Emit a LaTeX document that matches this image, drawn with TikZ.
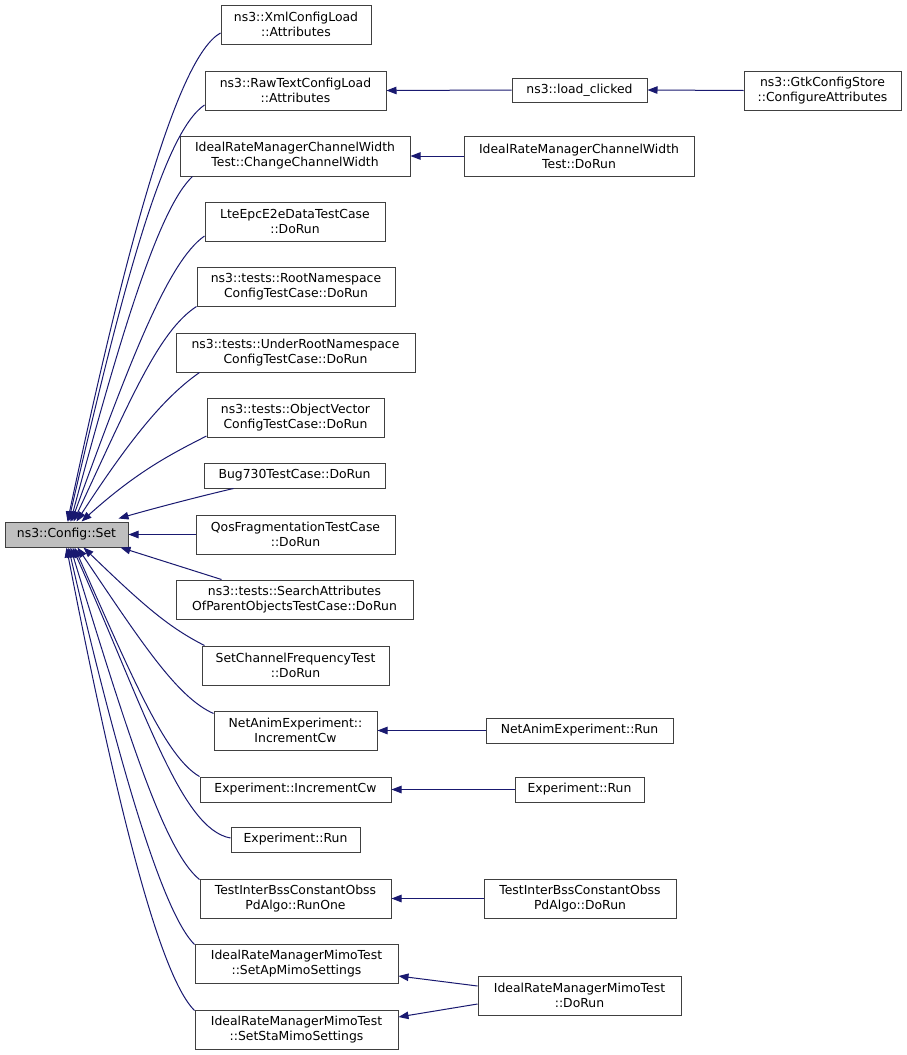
\documentclass[tikz,border=0pt]{standalone}
\usepackage{fontspec}
\setmainfont{DejaVu Sans}
\usetikzlibrary{arrows.meta}
\definecolor{edgeblue}{HTML}{191970}
\definecolor{hl}{HTML}{BFBFBF}
\definecolor{bd}{HTML}{404040}
\tikzset{
  fn/.style={draw=bd, line width=1pt, fill=white, rectangle, inner sep=0pt, align=center,
    font=\fontsize{12.4}{15}\selectfont},
  edge/.style={draw=edgeblue, line width=1pt, -{Triangle[length=10pt,width=7.5pt]}},
}
\begin{document}
\begin{tikzpicture}[x=1pt,y=-1pt]
\useasboundingbox[fill=white] (0,0) rectangle (907,1055);
\node[fn, fill=hl, minimum width=123, minimum height=25] (cs) at (66.5,534.5) {ns3::Config::Set};
\node[fn, minimum width=150, minimum height=39] (xml) at (296,24.5) {ns3::XmlConfigLoad\\::Attributes};
\node[fn, minimum width=181, minimum height=39] (raw) at (295.5,90.5) {ns3::RawTextConfigLoad\\::Attributes};
\node[fn, minimum width=135, minimum height=24] (lc) at (579.5,90) {ns3::load\_clicked};
\node[fn, minimum width=157, minimum height=39] (gtk) at (822.5,90.5) {ns3::GtkConfigStore\\::ConfigureAttributes};
\node[fn, minimum width=230, minimum height=40] (ccw) at (295,156) {IdealRateManagerChannelWidth\\Test::ChangeChannelWidth};
\node[fn, minimum width=230, minimum height=40] (ccwrun) at (579,156) {IdealRateManagerChannelWidth\\Test::DoRun};
\node[fn, minimum width=180, minimum height=39] (lte) at (295,221.5) {LteEpcE2eDataTestCase\\::DoRun};
\node[fn, minimum width=198, minimum height=39] (root) at (296,286.5) {ns3::tests::RootNamespace\\ConfigTestCase::DoRun};
\node[fn, minimum width=239, minimum height=39] (under) at (295.5,352.5) {ns3::tests::UnderRootNamespace\\ConfigTestCase::DoRun};
\node[fn, minimum width=177, minimum height=39] (objv) at (295.5,417.5) {ns3::tests::ObjectVector\\ConfigTestCase::DoRun};
\node[fn, minimum width=181, minimum height=25] (bug) at (294.5,475.5) {Bug730TestCase::DoRun};
\node[fn, minimum width=199, minimum height=39] (qos) at (295.5,534.5) {QosFragmentationTestCase\\::DoRun};
\node[fn, minimum width=237, minimum height=39] (search) at (294.5,599.5) {ns3::tests::SearchAttributes\\OfParentObjectsTestCase::DoRun};
\node[fn, minimum width=187, minimum height=39] (scf) at (295.5,665.5) {SetChannelFrequencyTest\\::DoRun};
\node[fn, minimum width=163, minimum height=39] (naic) at (295.5,730.5) {NetAnimExperiment::\\IncrementCw};
\node[fn, minimum width=187, minimum height=25] (narun) at (579.5,730.5) {NetAnimExperiment::Run};
\node[fn, minimum width=191, minimum height=25] (eic) at (295.5,789.5) {Experiment::IncrementCw};
\node[fn, minimum width=129, minimum height=25] (erun2) at (579.5,789.5) {Experiment::Run};
\node[fn, minimum width=129, minimum height=25] (erun) at (295.5,839.5) {Experiment::Run};
\node[fn, minimum width=191, minimum height=39] (tir) at (295.5,898.5) {TestInterBssConstantObss\\PdAlgo::RunOne};
\node[fn, minimum width=192, minimum height=39] (tid) at (580,898.5) {TestInterBssConstantObss\\PdAlgo::DoRun};
\node[fn, minimum width=203, minimum height=39] (ap) at (296.5,963.5) {IdealRateManagerMimoTest\\::SetApMimoSettings};
\node[fn, minimum width=203, minimum height=39] (mimorun) at (579.5,995.5) {IdealRateManagerMimoTest\\::DoRun};
\node[fn, minimum width=203, minimum height=39] (sta) at (296.5,1029.5) {IdealRateManagerMimoTest\\::SetStaMimoSettings};
% right-side edges
\draw[edge] (lc.west) -- (raw.east);
\draw[edge] (gtk.west) -- (lc.east);
\draw[edge] (ccwrun.west) -- (ccw.east);
\draw[edge] (narun.west) -- (naic.east);
\draw[edge] (erun2.west) -- (eic.east);
\draw[edge] (tid.west) -- (tir.east);
\draw[edge] ([yshift=9.5]mimorun.west) -- ([yshift=-12.5]ap.east);
\draw[edge] ([yshift=-8.5]mimorun.west) -- ([yshift=12.5]sta.east);
% edges to Config::Set (upper)
\draw[edge] ([yshift=-8.5]xml.west) .. controls +(209:50pt) and +(78:280pt) .. ([xshift=63]cs.north west);
\draw[edge] ([yshift=-14.5]raw.west) .. controls +(214:50pt) and +(77:240pt) .. ([xshift=64]cs.north west);
\draw[edge] ([xshift=13]ccw.south west) .. controls +(223:45pt) and +(75:200pt) .. ([xshift=66]cs.north west);
\draw[edge] ([yshift=-14.5]lte.west) .. controls +(215:45pt) and +(70:170pt) .. ([xshift=67]cs.north west);
\draw[edge] (root.south west) .. controls +(213:45pt) and +(65:135pt) .. ([xshift=69]cs.north west);
\draw[edge] ([xshift=24]under.south west) .. controls +(215:40pt) and +(57:105pt) .. ([xshift=72]cs.north west);
\draw[edge] ([yshift=-18.5]objv.west) .. controls +(207:40pt) and +(42:75pt) .. ([xshift=77]cs.north west);
\draw[edge] ([xshift=30]bug.south west) .. controls +(193:30pt) and +(16:40pt) .. ([xshift=-10,yshift=3]cs.north east);
\draw[edge] (qos.west) -- (cs.east);
% lower
\draw[edge] ([xshift=46]search.north west) -- ([xshift=-8]cs.south east);
\draw[edge] ([xshift=3]scf.north west) .. controls +(153:40pt) and +(-44:85pt) .. ([xshift=79]cs.south west);
\draw[edge] ([yshift=-3]naic.north west) .. controls +(156:40pt) and +(-56:115pt) .. ([xshift=73]cs.south west);
\draw[edge] (eic.north west) .. controls +(150:40pt) and +(-66:140pt) .. ([xshift=70]cs.south west);
\draw[edge] ([yshift=1.5]erun.west) .. controls +(170:50pt) and +(-66:180pt) .. ([xshift=68]cs.south west);
\draw[edge] ([yshift=-1]tir.north west) .. controls +(141:45pt) and +(-73:195pt) .. ([xshift=66]cs.south west);
\draw[edge] ([yshift=-1]ap.north west) .. controls +(135:45pt) and +(-77:225pt) .. ([xshift=64]cs.south west);
\draw[edge] ([yshift=-1]sta.north west) .. controls +(135:50pt) and +(-79:260pt) .. ([xshift=62]cs.south west);
\end{tikzpicture}
\end{document}
